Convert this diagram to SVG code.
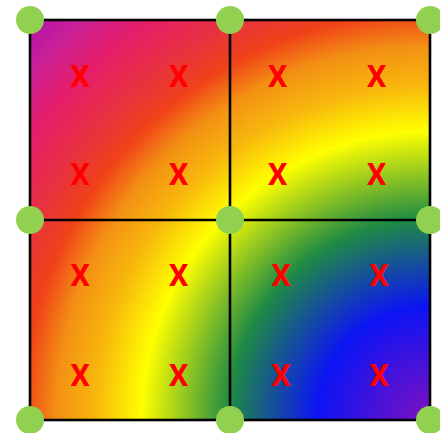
<svg xmlns="http://www.w3.org/2000/svg" width="440" height="433" viewBox="0 0 440 433">
<style>
.grid{fill:none;stroke:#000;stroke-width:2.6}
.pt{fill:#92d050}
.x{font-family:Roboto,"Liberation Sans",sans-serif;font-size:31px;font-weight:bold;fill:#ff0000;text-anchor:middle}
</style>
<defs>
<radialGradient id="rg" gradientUnits="userSpaceOnUse" cx="430" cy="420" r="566">
<stop offset="0" stop-color="#8010c0"/>
<stop offset="0.2" stop-color="#0c14f4"/>
<stop offset="0.355" stop-color="#1e8a44"/>
<stop offset="0.51" stop-color="#ffff00"/>
<stop offset="0.59" stop-color="#f8b80c"/>
<stop offset="0.66" stop-color="#f39014"/>
<stop offset="0.72" stop-color="#f04218"/>
<stop offset="0.78" stop-color="#e8323e"/>
<stop offset="0.86" stop-color="#e61e68"/>
<stop offset="0.94" stop-color="#c8209a"/>
<stop offset="1" stop-color="#b010a8"/>
</radialGradient>
</defs>
<rect x="30" y="20" width="400" height="400" fill="url(#rg)"/>
<g id="connectors">
<rect class="grid" x="30" y="20" width="400" height="400"/>
<line class="grid" x1="230" y1="20" x2="230" y2="420"/>
<line class="grid" x1="30" y1="220" x2="430" y2="220"/>
</g>
<g id="labels">
<text class="x" x="80" y="87">X</text>
<text class="x" x="178.5" y="87">X</text>
<text class="x" x="277.5" y="87">X</text>
<text class="x" x="376.5" y="87">X</text>
<text class="x" x="80" y="185">X</text>
<text class="x" x="178.5" y="185">X</text>
<text class="x" x="277.5" y="185">X</text>
<text class="x" x="376.5" y="185">X</text>
<text class="x" x="80" y="286">X</text>
<text class="x" x="178.5" y="286">X</text>
<text class="x" x="281" y="286">X</text>
<text class="x" x="379" y="286">X</text>
<text class="x" x="80" y="386">X</text>
<text class="x" x="178.5" y="386">X</text>
<text class="x" x="281" y="386">X</text>
<text class="x" x="379" y="386">X</text>
</g>
<g id="n1"><circle class="pt" cx="30" cy="20" r="14"/></g>
<g id="n2"><circle class="pt" cx="230" cy="20" r="14"/></g>
<g id="n3"><circle class="pt" cx="430" cy="20" r="14"/></g>
<g id="n4"><circle class="pt" cx="30" cy="220" r="14"/></g>
<g id="n5"><circle class="pt" cx="230" cy="220" r="14"/></g>
<g id="n6"><circle class="pt" cx="430" cy="220" r="14"/></g>
<g id="n7"><circle class="pt" cx="30" cy="420" r="14"/></g>
<g id="n8"><circle class="pt" cx="230" cy="420" r="14"/></g>
<g id="n9"><circle class="pt" cx="430" cy="420" r="14"/></g>
</svg>
